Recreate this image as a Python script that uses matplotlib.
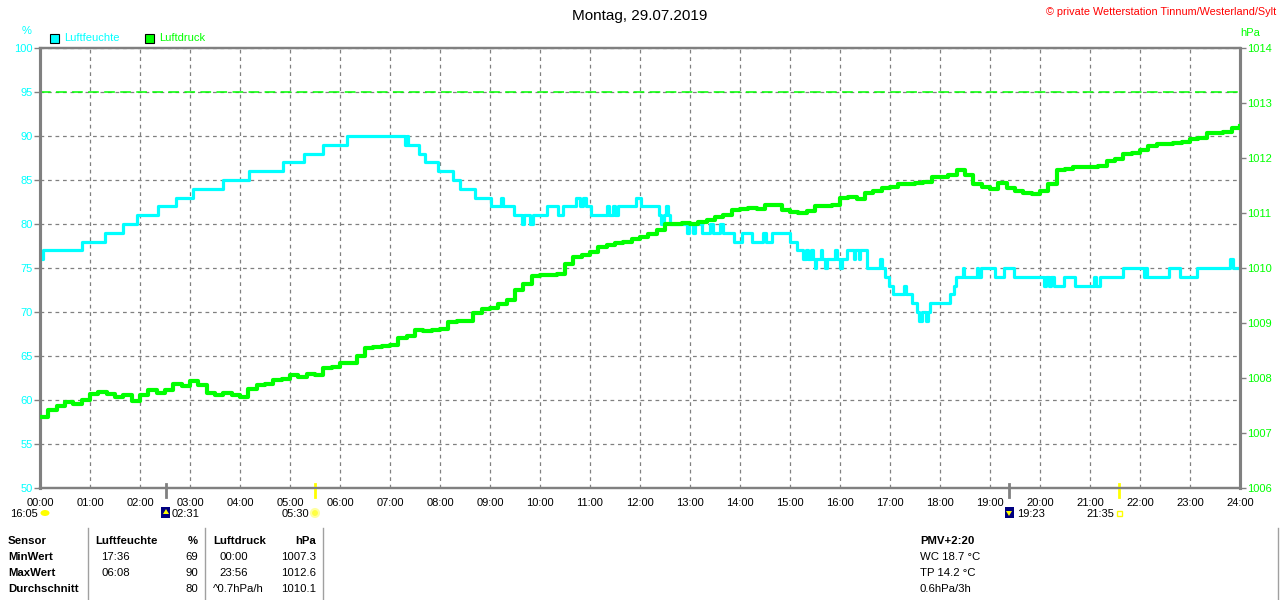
import matplotlib
matplotlib.use('Agg')
import matplotlib.pyplot as plt
from matplotlib.patches import Rectangle, Polygon, Ellipse
import numpy as np

plt.rcParams['font.family'] = ['Liberation Sans', 'DejaVu Sans']

# humidity (%) as step changes: time in hours, value from that time on
hum_t = [0.0, 0.05, 0.84, 1.3, 1.65, 1.93, 2.35, 2.72, 3.05, 3.65, 4.17, 4.85, 5.27, 5.65, 6.13,
         7.3, 7.33, 7.36, 7.58, 7.7, 7.95, 8.25, 8.39, 8.69, 9.03, 9.22, 9.25, 9.47, 9.63, 9.68,
         9.8, 9.85, 10.13, 10.35, 10.45, 10.72, 10.8, 10.85, 10.92, 11.02, 11.33, 11.38, 11.45,
         11.5, 11.56, 11.92, 12.02, 12.37, 12.42, 12.47, 12.52, 12.55, 12.6, 12.93, 12.97, 13.05,
         13.1, 13.23, 13.4, 13.45, 13.6, 13.65, 13.87, 14.03, 14.23, 14.45, 14.52, 14.63, 15.0,
         15.13, 15.25, 15.32, 15.36, 15.42, 15.45, 15.5, 15.52, 15.62, 15.64, 15.7, 15.73, 15.9,
         15.93, 16.0, 16.03, 16.13, 16.27, 16.3, 16.37, 16.4, 16.53, 16.8, 16.84, 16.9, 16.97,
         17.05, 17.28, 17.33, 17.43, 17.53, 17.58, 17.63, 17.72, 17.76, 17.8, 18.2, 18.27, 18.33,
         18.45, 18.48, 18.73, 18.76, 18.83, 19.1, 19.27, 19.47, 20.07, 20.12, 20.17, 20.22, 20.27,
         20.47, 20.7, 21.07, 21.12, 21.2, 21.65, 22.07, 22.1, 22.13, 22.57, 22.8, 23.13, 23.8,
         23.85, 24.0]
hum_v = [76, 77, 78, 79, 80, 81, 82, 83, 84, 85, 86, 87, 88, 89, 90,
         89, 90, 89, 88, 87, 86, 85, 84, 83, 82, 83, 82, 81, 80, 81,
         80, 81, 82, 81, 82, 83, 82, 83, 82, 81, 82, 81, 82,
         81, 82, 83, 82, 81, 80, 81, 82, 81, 80, 79, 80, 79,
         80, 79, 80, 79, 80, 79, 78, 79, 78, 79, 78, 79, 78,
         77, 76, 77, 76, 77, 76, 75, 76, 77, 76, 75, 76, 77,
         76, 75, 76, 77, 76, 77, 76, 77, 75, 76, 75, 74, 73,
         72, 73, 72, 71, 70, 69, 70, 69, 70, 71, 72, 73, 74,
         75, 74, 75, 74, 75, 74, 75, 74, 73, 74, 73, 74, 73,
         74, 73, 74, 73, 74, 75, 74, 75, 74, 75, 74, 75, 76,
         75, 75]

# air pressure (hPa), one value every 10 minutes from 00:00 to 24:00
pres = [1007.30, 1007.42, 1007.49, 1007.57, 1007.52, 1007.60,
        1007.71, 1007.74, 1007.71, 1007.66, 1007.70, 1007.58,
        1007.70, 1007.78, 1007.72, 1007.78, 1007.90, 1007.86,
        1007.95, 1007.88, 1007.72, 1007.70, 1007.72, 1007.70,
        1007.66, 1007.80, 1007.87, 1007.90, 1007.96, 1007.98,
        1008.05, 1008.02, 1008.08, 1008.05, 1008.18, 1008.20,
        1008.27, 1008.28, 1008.40, 1008.55, 1008.57, 1008.58,
        1008.60, 1008.72, 1008.76, 1008.87, 1008.86, 1008.88,
        1008.90, 1009.02, 1009.03, 1009.04, 1009.18, 1009.25,
        1009.28, 1009.35, 1009.42, 1009.60, 1009.71, 1009.86,
        1009.88, 1009.87, 1009.90, 1010.08, 1010.20, 1010.24,
        1010.30, 1010.38, 1010.42, 1010.45, 1010.48, 1010.52,
        1010.56, 1010.62, 1010.70, 1010.80, 1010.80, 1010.82,
        1010.80, 1010.84, 1010.88, 1010.92, 1010.96, 1011.06,
        1011.08, 1011.10, 1011.08, 1011.15, 1011.14, 1011.05,
        1011.02, 1011.00, 1011.04, 1011.12, 1011.13, 1011.15,
        1011.28, 1011.30, 1011.26, 1011.36, 1011.40, 1011.45,
        1011.48, 1011.53, 1011.52, 1011.55, 1011.56, 1011.66,
        1011.66, 1011.70, 1011.78, 1011.70, 1011.52, 1011.47,
        1011.43, 1011.55, 1011.45, 1011.40, 1011.36, 1011.34,
        1011.40, 1011.52, 1011.78, 1011.80, 1011.84, 1011.84,
        1011.84, 1011.86, 1011.94, 1011.98, 1012.08, 1012.10,
        1012.15, 1012.22, 1012.25, 1012.25, 1012.28, 1012.30,
        1012.34, 1012.36, 1012.45, 1012.45, 1012.48, 1012.55,
        1012.58]
pres_t = np.arange(len(pres)) / 6.0

hum_limit = 95
hour_labels = ['%02d:00' % h for h in range(25)]

# rise/set events below the time axis
event_t = [2 + 31 / 60, 5.5, 19 + 23 / 60, 21 + 35 / 60]
event_lbl = ['02:31', '05:30', '19:23', '21:35']
event_col = ['#808080', '#FFFF00', '#808080', '#FFFF00']

table_rows = [
    ['Sensor', 'Luftfeuchte', '%', 'Luftdruck', 'hPa'],
    ['MinWert', '17:36', '69', '00:00', '1007.3'],
    ['MaxWert', '06:08', '90', '23:56', '1012.6'],
    ['Durchschnitt', '', '80', '^0.7hPa/h', '1010.1'],
]
extra_lines = ['PMV+2:20', 'WC 18.7 °C', 'TP 14.2 °C', '0.6hPa/3h']

W, H = 1280, 600
CYAN, GREEN, GRAY = '#00FFFF', '#00FF00', '#808080'

fig = plt.figure(figsize=(W / 100, H / 100), dpi=100)
fig.patch.set_facecolor('white')


def fx(x):
    return x / W


def fy(y):
    return 1 - y / H


ax = fig.add_axes([fx(40), fy(488), fx(1200), (488 - 48) / H])
ax2 = ax.twinx()

ax.set_xlim(0, 24)
ax.set_ylim(50, 100)
ax2.set_ylim(1006, 1014)

ax.set_xticks(range(25))
ax.set_xticklabels(hour_labels)
ax.set_yticks(range(50, 101, 5))
ax2.set_yticks(range(1006, 1015))

ax.grid(True, color=GRAY, linestyle=(0, (3, 3)), linewidth=0.9)
ax.tick_params(axis='x', length=0, pad=7, labelsize=8, colors='black')
ax.tick_params(axis='y', length=4, width=1, color=GRAY, pad=1, labelsize=8, labelcolor=CYAN)
ax2.tick_params(axis='y', length=4, width=1, color=GRAY, pad=1, labelsize=8, labelcolor=GREEN)

for a in (ax, ax2):
    for side in ('top', 'bottom'):
        a.spines[side].set_color(GRAY)
        a.spines[side].set_linewidth(1.6)
    a.spines['left'].set_color(GRAY)
    a.spines['left'].set_linewidth(2.2)
    a.spines['right'].set_color(GRAY)
    a.spines['right'].set_linewidth(2.2)

ax.axhline(hum_limit, color=GREEN, linestyle=(0, (7, 3.5)), linewidth=1.1, zorder=2)
ax.step(hum_t, hum_v, where='post', color=CYAN, linewidth=2.3, zorder=4)
ax2.step(pres_t, pres, where='post', color=GREEN, linewidth=3.0, zorder=4)

# event markers crossing the time axis
for t, c in zip(event_t, event_col):
    ax.plot([t, t], [50 + 50 * 4 / 440, 50 - 50 * 9 / 440], color=c, linewidth=2,
            clip_on=False, zorder=6)

# header texts
fig.text(0.5, fy(16), 'Montag, 29.07.2019', ha='center', va='center', fontsize=11)
fig.text(fx(1276), fy(12), '© private Wetterstation Tinnum/Westerland/Sylt', ha='right',
         va='center', fontsize=7.8, color='red')
fig.text(fx(27), fy(31), '%', ha='center', va='center', fontsize=8, color=CYAN)
fig.text(fx(1250), fy(33), 'hPa', ha='center', va='center', fontsize=8, color=GREEN)

# legend
for x0, lbl, col in [(50, 'Luftfeuchte', CYAN), (145, 'Luftdruck', GREEN)]:
    fig.patches.append(Rectangle((fx(x0), fy(43)), fx(9), 9 / H, transform=fig.transFigure,
                                 facecolor=col, edgecolor='black', linewidth=0.8))
    fig.text(fx(x0 + 14), fy(38), lbl, ha='left', va='center', fontsize=8, color=col)

# labels below the axis
fig.text(fx(38), fy(514), '16:05', ha='right', va='center', fontsize=8)
fig.patches.append(Ellipse((fx(45), fy(513)), fx(9), 6 / H, transform=fig.transFigure,
                           facecolor='#FFFF00', edgecolor='none'))
lbl_x = [172, 282, 1017, 1086]
for x0, lbl in zip(lbl_x, event_lbl):
    fig.text(fx(x0), fy(514), lbl, ha='left', va='center', fontsize=8)
# moon rise / set icons
for x0, up in [(161, True), (1005, False)]:
    fig.patches.append(Rectangle((fx(x0), fy(518)), fx(9), 11 / H, transform=fig.transFigure,
                                 facecolor='#000080', edgecolor='none'))
    if up:
        pts = [(x0 + 5, 509), (x0 + 2, 514), (x0 + 8, 514)]
    else:
        pts = [(x0 + 4, 516), (x0 + 1, 511), (x0 + 7, 511)]
    fig.patches.append(Polygon([(fx(a), fy(b)) for a, b in pts], closed=True,
                               transform=fig.transFigure, facecolor='#FFFF00', edgecolor='none'))
# sun icons
fig.patches.append(Ellipse((fx(315), fy(513)), fx(8), 8 / H, transform=fig.transFigure,
                           facecolor='#FFFF40', edgecolor='#FFFFA0', linewidth=1.5))
fig.patches.append(Rectangle((fx(1117), fy(515.5)), fx(4.5), 4.5 / H, transform=fig.transFigure,
                             facecolor='white', edgecolor='#FFFF00', linewidth=1))

# bottom table
row_y = [541, 557, 573, 589]
for r, (y, row) in enumerate(zip(row_y, table_rows)):
    w = 'bold' if r == 0 else 'normal'
    fig.text(fx(8), fy(y), row[0], ha='left', va='center', fontsize=8.2, fontweight='bold')
    fig.text(fx(95 if r == 0 else 101), fy(y), row[1], ha='left', va='center', fontsize=8.2,
             fontweight=w)
    fig.text(fx(198), fy(y), row[2], ha='right', va='center', fontsize=8.2, fontweight=w)
    fig.text(fx(213 if r in (0, 3) else 219), fy(y), row[3], ha='left', va='center',
             fontsize=8.2, fontweight=w)
    fig.text(fx(316), fy(y), row[4], ha='right', va='center', fontsize=8.2, fontweight=w)
for i, (y, s) in enumerate(zip(row_y, extra_lines)):
    fig.text(fx(920), fy(y), s, ha='left', va='center', fontsize=8.2,
             fontweight='bold' if i == 0 else 'normal')
for x0 in (88, 205, 323, 1278):
    fig.add_artist(plt.Line2D([fx(x0), fx(x0)], [fy(528), fy(600)], color='#A0A0A0',
                              linewidth=1, transform=fig.transFigure))

fig.savefig('out.png', dpi=100, facecolor='white')
